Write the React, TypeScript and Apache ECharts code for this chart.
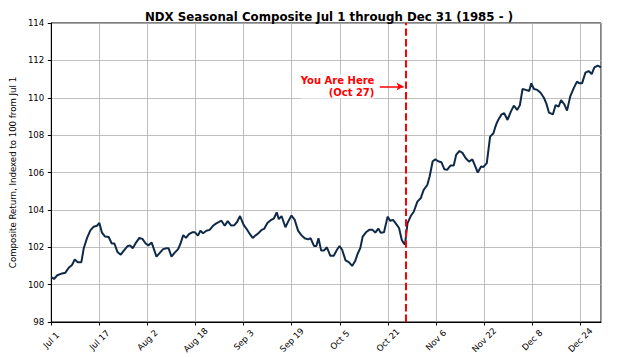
import React, { useEffect, useRef } from "react";
import * as echarts from "echarts";

const title = "NDX Seasonal Composite Jul 1 through Dec 31 (1985 - )";
const yAxisTitle = "Composite Return, Indexed to 100 from Jul 1";
const monthNames = ["Jan", "Feb", "Mar", "Apr", "May", "Jun", "Jul", "Aug", "Sep", "Oct", "Nov", "Dec"];

// day offset from Jul 1
const days = [
  0, 0.9, 2.0, 3.6, 4.7, 5.8, 6.9, 7.8, 8.8, 10.0, 10.8, 11.9, 13.0, 14.1, 15.2, 16.0, 16.8, 17.9, 19.1, 20.1,
  21.0, 22.0, 23.1, 24.2, 25.3, 26.2, 27.1, 28.2, 29.3, 30.3, 31.4, 32.3, 33.4, 35.0, 36.1, 37.2, 38.3, 39.0,
  40.0, 41.0, 42.2, 43.0, 43.9, 44.8, 45.8, 46.9, 47.8, 48.8, 49.6, 50.5, 51.6, 52.7, 53.8, 54.9, 56.6, 57.7,
  58.7, 59.8, 60.9, 61.8, 62.8, 64.0, 65.1, 66.1, 67.0, 68.1, 68.9, 70.0, 70.8, 71.9, 73.0, 74.1, 75.0, 75.7,
  76.6, 77.9, 78.8, 79.9, 81.0, 82.1, 83.2, 84.3, 85.4, 86.3, 87.4, 88.2, 88.9, 89.8, 90.7, 91.7, 92.8, 94.0,
  95.0, 95.9, 96.8, 97.9, 99.0, 100.1, 101.1, 101.9, 102.8, 103.6, 104.7, 105.8, 106.9, 107.8, 108.8, 109.6,
  110.7, 111.9, 112.7, 113.7, 114.6, 115.7, 116.6, 117.3, 117.7, 118.5, 119.6, 120.6, 121.8, 122.9, 123.9,
  125.1, 125.9, 126.9, 127.8, 128.7, 129.8, 130.8, 131.7, 132.8, 133.9, 134.7, 135.8, 136.8, 137.9, 139.0,
  140.1, 141.0, 141.9, 143.0, 143.8, 144.9, 146.0, 147.1, 147.6, 148.2, 148.7, 149.8, 150.7, 151.8, 152.9,
  153.9, 155.0, 155.9, 156.8, 157.9, 159.0, 159.7, 160.6, 161.7, 162.8, 163.9, 164.7, 165.6, 166.9, 167.8,
  168.8, 169.6, 170.7, 171.6, 172.7, 173.8, 174.9, 175.7, 176.6, 177.7, 178.8, 179.8, 180.7, 181.8, 182.9,
];

const values = [
  100.4, 100.3, 100.5, 100.6, 100.64, 100.9, 101.05, 101.35, 101.2, 101.2, 101.95, 102.5, 102.9, 103.1, 103.15,
  103.3, 102.8, 102.57, 102.55, 102.2, 102.2, 101.75, 101.6, 101.83, 102.05, 102.1, 101.95, 102.25, 102.5,
  102.45, 102.2, 102.1, 102.25, 101.5, 101.7, 101.9, 101.95, 101.95, 101.5, 101.7, 101.9, 102.2, 102.65, 102.5,
  102.7, 102.8, 102.8, 102.62, 102.88, 102.75, 102.88, 102.93, 103.15, 103.28, 103.42, 103.15, 103.4, 103.17,
  103.18, 103.35, 103.67, 103.2, 102.95, 102.7, 102.5, 102.65, 102.75, 102.93, 102.98, 103.3, 103.45, 103.55,
  103.87, 103.5, 103.67, 103.07, 103.37, 103.7, 103.46, 102.89, 102.65, 102.48, 102.42, 102.48, 102.07, 102.07,
  102.48, 101.82, 101.82, 102.0, 101.55, 101.55, 101.85, 102.07, 101.85, 101.3, 101.2, 101.0, 101.26, 101.64,
  101.95, 102.57, 102.8, 102.93, 102.93, 102.78, 103.0, 102.78, 102.8, 103.64, 103.42, 103.46, 103.28, 103.03,
  102.4, 102.2, 102.15, 103.28, 103.67, 103.9, 104.44, 104.62, 105.07, 105.33, 105.8, 106.6, 106.7, 106.6,
  106.55, 106.17, 106.14, 106.37, 106.37, 106.94, 107.15, 107.05, 106.76, 106.58, 106.7, 106.35, 106.0, 106.32,
  106.3, 106.5, 107.92, 108.1, 108.37, 108.64, 108.81, 109.11, 109.17, 108.81, 109.26, 109.58, 109.35, 109.6,
  110.47, 110.42, 110.36, 110.77, 110.47, 110.42, 110.27, 110.0, 109.7, 109.2, 109.11, 109.61, 109.52, 109.88,
  109.65, 109.31, 110.09, 110.5, 110.86, 110.77, 110.77, 111.34, 111.43, 111.27, 111.63, 111.72, 111.63,
];

const todayDay = 118; // Oct 27
const annotationText = "You Are Here\n(Oct 27)";
const textAnchorDay = 107.5;
const arrowStartDay = 109.3;
const arrowEndDay = 117.2;
const arrowValue = 110.6;

const yMin = 98;
const yMax = 114;
const yStep = 2;
const xMin = 0;
const xMax = 182.9;
const xStep = 16;

function dayLabel(d: number): string {
  const t = new Date(Date.UTC(2001, 6, 1) + Math.round(d) * 86400000);
  return monthNames[t.getUTCMonth()] + " " + t.getUTCDate();
}

export default function App() {
  const ref = useRef<HTMLDivElement>(null);
  useEffect(() => {
    if (!ref.current) return;
    const chart = echarts.init(ref.current, undefined, { renderer: "svg" });
    const font = "DejaVu Sans";
    chart.setOption({
      animation: false,
      backgroundColor: "#fff",
      textStyle: { fontFamily: font },
      title: {
        text: title,
        left: 324,
        textAlign: "center",
        top: 6,
        textStyle: { fontFamily: font, fontSize: 11.8, fontWeight: "bold", color: "#000" },
      },
      grid: {
        left: 48,
        right: 22,
        top: 23,
        bottom: 35,
        show: true,
        borderColor: "#000",
        borderWidth: 1,
        backgroundColor: "transparent",
      },
      xAxis: {
        type: "value",
        min: xMin,
        max: xMax,
        interval: xStep,
        axisLine: { show: true, onZero: false, lineStyle: { color: "#000", width: 1 } },
        axisTick: { show: true, length: 3.5, lineStyle: { color: "#000" } },
        axisLabel: {
          rotate: 45,
          fontSize: 8.6,
          color: "#000",
          fontFamily: font,
          align: "center",
          verticalAlign: "middle",
          margin: 18,
          showMaxLabel: false,
          formatter: (v: number) => dayLabel(v),
        },
        splitLine: { show: true, lineStyle: { color: "#b0b0b0", width: 0.8 } },
      },
      yAxis: {
        type: "value",
        min: yMin,
        max: yMax,
        interval: yStep,
        name: yAxisTitle,
        nameLocation: "middle",
        nameGap: 28,
        nameTextStyle: { fontSize: 8.6, color: "#000", fontFamily: font },
        axisLine: { show: true, lineStyle: { color: "#000", width: 1 } },
        axisTick: { show: true, length: 3.5, lineStyle: { color: "#000" } },
        axisLabel: { fontSize: 8.6, color: "#000", fontFamily: font, margin: 7 },
        splitLine: { show: true, lineStyle: { color: "#b0b0b0", width: 0.8 } },
      },
      series: [
        {
          type: "line",
          data: days.map((d, i) => [d, values[i]]),
          showSymbol: false,
          symbol: "none",
          lineStyle: { color: "#0f2a48", width: 2 },
          z: 3,
          markLine: {
            silent: true,
            symbol: ["none", "none"],
            label: { show: false },
            data: [
              {
                xAxis: todayDay,
                lineStyle: { color: "#ff0000", width: 2, type: [7.4, 3.2] },
              },
              [
                {
                  coord: [arrowStartDay, arrowValue],
                  symbol: "none",
                  lineStyle: { color: "#ff0000", width: 1.5, type: "solid" },
                },
                {
                  coord: [arrowEndDay, arrowValue],
                  symbol: "arrow",
                  symbolSize: [6, 7],
                },
              ],
            ],
          },
          markPoint: {
            silent: true,
            symbol: "circle",
            symbolSize: 0,
            data: [
              {
                coord: [textAnchorDay, arrowValue],
                label: {
                  show: true,
                  position: "left",
                  distance: 0,
                  formatter: annotationText,
                  align: "right",
                  color: "#ff0000",
                  fontSize: 10,
                  fontWeight: "bold",
                  fontFamily: font,
                  lineHeight: 12,
                  backgroundColor: "#fff",
                },
              },
            ],
          },
        },
      ],
    });
    return () => chart.dispose();
  }, []);
  return <div ref={ref} style={{ width: 623, height: 357, position: "absolute", left: 0, top: 0 }} />;
}
